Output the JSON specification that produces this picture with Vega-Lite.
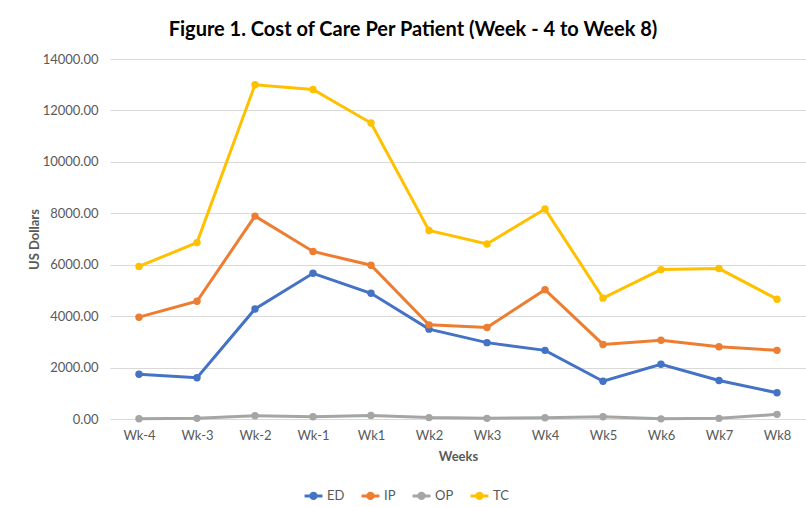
{
  "$schema": "https://vega.github.io/schema/vega-lite/v6.json",
  "width": 696,
  "height": 360,
  "autosize": "none",
  "padding": {"left": 110, "top": 59, "right": 0, "bottom": 88},
  "background": "white",
  "title": {
    "text": "Figure 1. Cost of Care Per Patient (Week - 4 to Week 8)",
    "font": "Lato",
    "fontSize": 20,
    "fontWeight": "bold",
    "color": "#000000",
    "anchor": "middle",
    "dx": -45,
    "offset": 13
  },
  "config": {
    "font": "Lato",
    "view": {"stroke": null},
    "axis": {"labelFont": "Lato", "titleFont": "Lato", "labelColor": "#595959", "titleColor": "#595959", "labelFontSize": 13, "titleFontSize": 13, "titleFontWeight": "bold"}
  },
  "data": {
    "values": [
      {"week": "Wk-4", "series": "ED", "cost": 1740},
      {"week": "Wk-3", "series": "ED", "cost": 1606},
      {"week": "Wk-2", "series": "ED", "cost": 4278},
      {"week": "Wk-1", "series": "ED", "cost": 5666},
      {"week": "Wk1", "series": "ED", "cost": 4889},
      {"week": "Wk2", "series": "ED", "cost": 3495},
      {"week": "Wk3", "series": "ED", "cost": 2970},
      {"week": "Wk4", "series": "ED", "cost": 2670},
      {"week": "Wk5", "series": "ED", "cost": 1470},
      {"week": "Wk6", "series": "ED", "cost": 2130},
      {"week": "Wk7", "series": "ED", "cost": 1495},
      {"week": "Wk8", "series": "ED", "cost": 1020},
      {"week": "Wk-4", "series": "IP", "cost": 3960},
      {"week": "Wk-3", "series": "IP", "cost": 4580},
      {"week": "Wk-2", "series": "IP", "cost": 7890},
      {"week": "Wk-1", "series": "IP", "cost": 6516},
      {"week": "Wk1", "series": "IP", "cost": 5980},
      {"week": "Wk2", "series": "IP", "cost": 3662},
      {"week": "Wk3", "series": "IP", "cost": 3560},
      {"week": "Wk4", "series": "IP", "cost": 5030},
      {"week": "Wk5", "series": "IP", "cost": 2900},
      {"week": "Wk6", "series": "IP", "cost": 3060},
      {"week": "Wk7", "series": "IP", "cost": 2810},
      {"week": "Wk8", "series": "IP", "cost": 2670},
      {"week": "Wk-4", "series": "OP", "cost": 10},
      {"week": "Wk-3", "series": "OP", "cost": 25},
      {"week": "Wk-2", "series": "OP", "cost": 128},
      {"week": "Wk-1", "series": "OP", "cost": 90},
      {"week": "Wk1", "series": "OP", "cost": 140},
      {"week": "Wk2", "series": "OP", "cost": 55},
      {"week": "Wk3", "series": "OP", "cost": 25},
      {"week": "Wk4", "series": "OP", "cost": 50},
      {"week": "Wk5", "series": "OP", "cost": 90},
      {"week": "Wk6", "series": "OP", "cost": 5},
      {"week": "Wk7", "series": "OP", "cost": 25},
      {"week": "Wk8", "series": "OP", "cost": 180},
      {"week": "Wk-4", "series": "TC", "cost": 5935},
      {"week": "Wk-3", "series": "TC", "cost": 6860},
      {"week": "Wk-2", "series": "TC", "cost": 13000},
      {"week": "Wk-1", "series": "TC", "cost": 12814},
      {"week": "Wk1", "series": "TC", "cost": 11510},
      {"week": "Wk2", "series": "TC", "cost": 7330},
      {"week": "Wk3", "series": "TC", "cost": 6808},
      {"week": "Wk4", "series": "TC", "cost": 8167},
      {"week": "Wk5", "series": "TC", "cost": 4700},
      {"week": "Wk6", "series": "TC", "cost": 5810},
      {"week": "Wk7", "series": "TC", "cost": 5850},
      {"week": "Wk8", "series": "TC", "cost": 4660}
    ]
  },
  "mark": {"type": "line", "strokeWidth": 3, "point": {"filled": true, "size": 55}},
  "encoding": {
    "x": {
      "field": "week",
      "type": "ordinal",
      "sort": ["Wk-4", "Wk-3", "Wk-2", "Wk-1", "Wk1", "Wk2", "Wk3", "Wk4", "Wk5", "Wk6", "Wk7", "Wk8"],
      "scale": {"type": "point", "padding": 0.5},
      "axis": {"title": "Weeks", "labelAngle": 0, "domain": false, "ticks": false, "labelPadding": 10, "titlePadding": 8, "grid": false}
    },
    "y": {
      "field": "cost",
      "type": "quantitative",
      "scale": {"domain": [0, 14000]},
      "axis": {"title": "US Dollars", "format": ".2f", "values": [0, 2000, 4000, 6000, 8000, 10000, 12000, 14000], "domain": false, "ticks": false, "labelPadding": 12, "gridColor": "#d9d9d9", "gridWidth": 1, "titlePadding": 1}
    },
    "color": {
      "field": "series",
      "type": "nominal",
      "scale": {"domain": ["ED", "IP", "OP", "TC"], "range": ["#4472C4", "#ED7D31", "#A5A5A5", "#FFC000"]},
      "legend": {
        "title": null,
        "orient": "none",
        "direction": "horizontal",
        "legendX": 193,
        "legendY": 426,
        "labelFont": "Lato",
        "labelFontSize": 13,
        "labelColor": "#595959",
        "symbolType": "M-1,0L1,0M-0.3,0A0.3,0.3 0 1,0 0.3,0A0.3,0.3 0 1,0 -0.3,0",
        "symbolSize": 320,
        "symbolStrokeWidth": 3,
        "columnPadding": 10,
        "labelOffset": 3,
        "encode": {"symbols": {"update": {"fill": {"scale": "color", "field": "value"}}}}
      }
    }
  }
}
